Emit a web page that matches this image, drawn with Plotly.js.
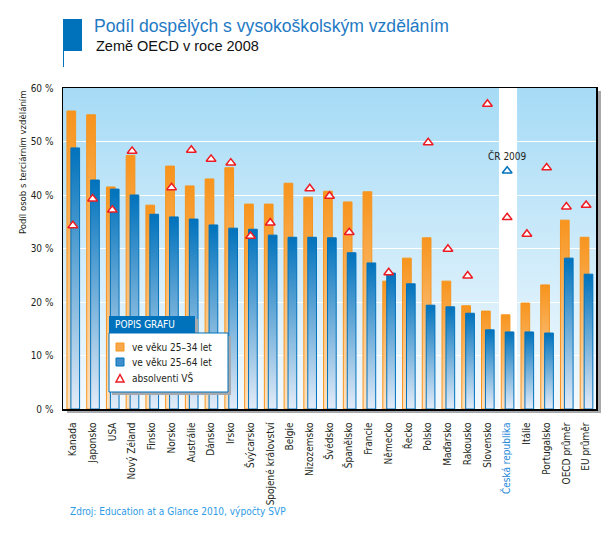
<!DOCTYPE html>
<html><head><meta charset="utf-8">
<script src="https://cdn.plot.ly/plotly-3.0.1.min.js"></script>
<style>body{margin:0;background:#fff}#chart{width:614px;height:536px}</style>
</head><body><div id="chart"></div>
<script>
const categories = ["Kanada","Japonsko","USA","Nový Zéland","Finsko","Norsko","Austrálie","Dánsko","Irsko","Švýcarsko","Spojené království","Belgie","Nizozemsko","Švédsko","Španělsko","Francie","Německo","Řecko","Polsko","Maďarsko","Rakousko","Slovensko","Česká republika","Itálie","Portugalsko","OECD průměr","EU průměr"];
const age2534 = [55.7,55.0,41.5,47.4,38.1,45.4,41.7,43.0,45.1,38.3,38.3,42.2,39.6,40.7,38.7,40.6,23.9,28.2,32.0,23.9,19.3,18.3,17.6,19.8,23.2,35.3,32.1];
const age2564 = [48.8,42.8,41.1,40.0,36.4,35.9,35.5,34.4,33.8,33.6,32.5,32.1,32.1,32.0,29.2,27.3,25.4,23.4,19.4,19.1,17.9,14.8,14.4,14.4,14.2,28.2,25.2];
const graduates = [34.3,39.3,37.2,48.2,null,41.4,48.4,46.7,46.0,32.3,34.8,null,41.2,39.8,33.0,null,25.5,null,49.8,29.9,24.9,57.0,35.8,32.7,45.1,37.8,38.1];
const crCategory = ["Česká republika"];
const cr2009 = [44.5];
const yTicks = [0,10,20,30,40,50,60];
const yTickLabels = ["0 %","10 %","20 %","30 %","40 %","50 %","60 %"];
const legendLabels = ["ve věku 25–34 let","ve věku 25–64 let","absolventi VŠ"];

const NARROW = '"Liberation Sans Narrow","Arial Narrow","DejaVu Sans Condensed",sans-serif';
const SANS = '"Liberation Sans",Arial,Helvetica,sans-serif';
const TXT = '#231f20';

// pixel -> paper helpers (plot area 63..596 x 88..409)
const L=63,R=596,T=88,B=409;
const px = x => (x-L)/(R-L);
const py = y => (B-y)/(B-T);

const tickText = categories.map(c => c==="Česká republika" ? '<span style="color:#1e88d8">'+c+'</span>' : c);
const crIdx = categories.indexOf("Česká republika");

const data = [
  {type:'bar', x:categories, y:age2534, name:legendLabels[0], width:0.44, offset:-0.30,
   marker:{color:'#f7941d', line:{color:'#f7941d', width:1}}, showlegend:false},
  {type:'bar', x:categories, y:age2564, name:legendLabels[1], width:0.44, offset:-0.10,
   marker:{color:'#0072bc', line:{color:'#0072bc', width:1}}, showlegend:false},
  {type:'scatter', mode:'markers', x:categories, y:graduates, name:legendLabels[2], cliponaxis:false,
   marker:{symbol:'triangle-up', size:8.5, color:'white', line:{color:'#ed1c24', width:1.5}}, showlegend:false},
  {type:'scatter', mode:'markers', x:crCategory, y:cr2009, name:'ČR 2009', cliponaxis:false,
   marker:{symbol:'triangle-up', size:8.5, color:'white', line:{color:'#0072bc', width:1.5}}, showlegend:false}
];

const shapes = [
  {type:'rect', xref:'x', yref:'paper', x0:crIdx-0.415, x1:crIdx+0.5, y0:0, y1:1, fillcolor:'white', line:{width:0}, layer:'below'},
  {type:'rect', xref:'paper', yref:'paper', x0:1, x1:px(601), y0:py(413), y1:py(91), fillcolor:'#a7a9ac', line:{width:0}, layer:'below'},
  {type:'rect', xref:'paper', yref:'paper', x0:px(67), x1:px(601), y0:py(413), y1:0, fillcolor:'#a7a9ac', line:{width:0}, layer:'below'},
  {type:'rect', xref:'paper', yref:'paper', x0:px(63), x1:px(82), y0:py(51), y1:py(19), fillcolor:'#0072bc', line:{width:0}},
  {type:'line', xref:'paper', yref:'paper', x0:px(63.5), x1:px(63.5), y0:py(67), y1:py(51), line:{color:'#0072bc', width:1}},
  {type:'rect', xref:'paper', yref:'paper', x0:px(112), x1:px(198), y0:py(336), y1:py(319), fillcolor:'#a7a9ac', line:{width:0}, layer:'above'},
  {type:'rect', xref:'paper', yref:'paper', x0:px(112), x1:px(231), y0:py(395), y1:py(336), fillcolor:'#a7a9ac', line:{width:0}, layer:'above'},
  {type:'rect', xref:'paper', yref:'paper', x0:px(109), x1:px(195), y0:py(333), y1:py(316), fillcolor:'#0072bc', line:{width:0}, layer:'above'},
  {type:'rect', xref:'paper', yref:'paper', x0:px(109), x1:px(228), y0:py(392), y1:py(333), fillcolor:'white', line:{color:'#0072bc', width:1}, layer:'above'},
  {type:'rect', xref:'paper', yref:'paper', x0:px(116), x1:px(124), y0:py(351), y1:py(343), fillcolor:'#f9a94c', line:{color:'#f7941d', width:1}, layer:'above'},
  {type:'rect', xref:'paper', yref:'paper', x0:px(116), x1:px(124), y0:py(366), y1:py(358), fillcolor:'#3f8fcf', line:{color:'#0072bc', width:1}, layer:'above'},
  {type:'path', xref:'paper', yref:'paper', layer:'above',
   path:`M ${px(116)},${py(382)} L ${px(124)},${py(382)} L ${px(120)},${py(374.5)} Z`,
   fillcolor:'white', line:{color:'#ed1c24', width:1.5}}
];

const ann = (x,y,text,opts={}) => Object.assign({xref:'paper', yref:'paper', x:px(x), y:py(y), text, showarrow:false,
  xanchor:'left', yanchor:'middle', font:{family:NARROW, size:10, color:TXT}}, opts);

const annotations = [
  ann(94,46,'Země OECD v roce 2008',{font:{family:SANS, size:14.5, color:'#111'}}),
  ann(22,88,'Podíl osob s terciárním vzděláním',{textangle:-90, xanchor:'center', yanchor:'top', font:{family:NARROW, size:9.5, color:TXT}}),
  ann(68,511,'Zdroj: Education at a Glance 2010, výpočty SVP',{font:{family:NARROW, size:10, color:'#2e9be6'}}),
  ann(113,324.5,'POPIS GRAFU',{font:{family:NARROW, size:10, color:'white'}}),
  ann(130,347,legendLabels[0]),
  ann(130,362,legendLabels[1]),
  ann(130,378,legendLabels[2]),
  {xref:'x', yref:'y', x:crIdx, y:47.2, text:'ČR 2009', showarrow:false, font:{family:NARROW, size:10, color:TXT}}
];

const layout = {
  width:614, height:536,
  margin:{l:L, r:614-R, t:T, b:536-B, pad:0},
  paper_bgcolor:'white', plot_bgcolor:'#cfeaf8',
  title:{text:'Podíl dospělých s vysokoškolským vzděláním', xref:'container', yref:'container',
    x:94/614, xanchor:'left', y:1-26/536, yanchor:'middle',
    font:{family:SANS, size:17.6, color:'#1f7ac4'}},
  barmode:'overlay',
  showlegend:false,
  xaxis:{type:'category', categoryorder:'array', categoryarray:categories,
    tickvals:categories, ticktext:tickText, tickangle:-90, ticks:'', ticklabelstandoff:8,
    tickfont:{family:NARROW, size:10, color:TXT},
    showline:true, linecolor:'#000', linewidth:1.5, mirror:true, showgrid:false, zeroline:false,
    range:[-0.5, categories.length-0.5]},
  yaxis:{range:[0,60], tickvals:yTicks, ticktext:yTickLabels, ticks:'', ticklabelstandoff:6,
    tickfont:{family:NARROW, size:10, color:TXT},
    showline:true, linecolor:'#000', linewidth:1.5, mirror:true,
    showgrid:true, gridcolor:'white', gridwidth:1, zeroline:false},
  shapes, annotations
};

Plotly.newPlot('chart', data, layout, {staticPlot:true}).then(gd => {
  const ns = 'http://www.w3.org/2000/svg';
  const svg = gd.querySelector('svg.main-svg');
  let defs = svg.querySelector('defs');
  if(!defs){ defs = document.createElementNS(ns,'defs'); svg.insertBefore(defs, svg.firstChild); }
  function grad(id, stops){
    const g = document.createElementNS(ns,'linearGradient');
    g.setAttribute('id',id); g.setAttribute('x1','0'); g.setAttribute('y1','0'); g.setAttribute('x2','0'); g.setAttribute('y2','1');
    stops.forEach(([o,c])=>{ const s=document.createElementNS(ns,'stop'); s.setAttribute('offset',o); s.setAttribute('stop-color',c); g.appendChild(s); });
    defs.appendChild(g);
  }
  grad('gO',[['0%','#f7941d'],['100%','#fde3c4']]);
  grad('gB',[['0%','#0072bc'],['100%','#e4ecf8']]);
  grad('gBg',[['0%','#a6dbf6'],['100%','#f4fafe']]);
  const traces = gd.querySelectorAll('.barlayer .trace');
  if(traces[0]) traces[0].querySelectorAll('path').forEach(p=>p.style.fill='url(#gO)');
  if(traces[1]) traces[1].querySelectorAll('path').forEach(p=>p.style.fill='url(#gB)');
  gd.querySelectorAll('rect.bg').forEach(r=>{ if(!r.closest('.legend')) r.style.fill='url(#gBg)'; });
});
</script></body></html>
